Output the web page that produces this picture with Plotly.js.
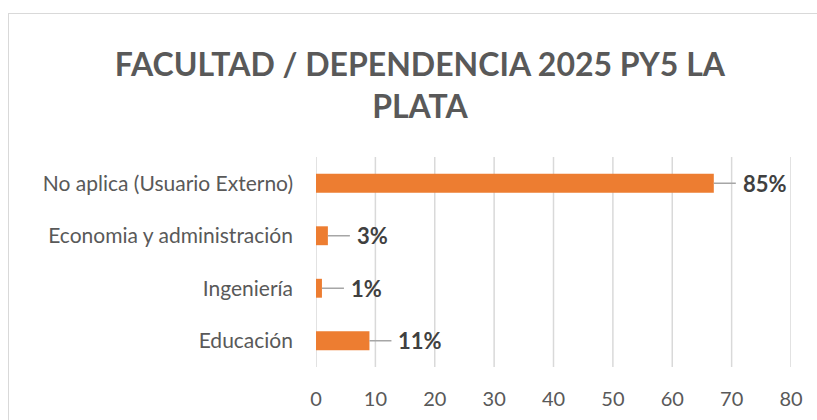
<!DOCTYPE html>
<html>
<head>
<meta charset="utf-8">
<script src="https://cdn.plot.ly/plotly-3.0.1.min.js"></script>
<style>
html,body{margin:0;padding:0;background:#fff;}
#wrap{position:relative;width:817px;height:420px;overflow:hidden;}
#chart{position:absolute;left:0;top:0;width:817px;height:420px;}
#box{position:absolute;left:8px;top:13px;width:830px;height:430px;border:1px solid #d9d9d9;box-sizing:border-box;pointer-events:none;}
</style>
</head>
<body>
<div id="wrap"><div id="chart"></div><div id="box"></div></div>
<script>
var categories = ['No aplica (Usuario Externo)', 'Economia y administración', 'Ingeniería', 'Educación'];
var counts = [67, 2, 1, 9];
var pctLabels = ['85%', '3%', '1%', '11%'];
var xTicks = [0, 10, 20, 30, 40, 50, 60, 70, 80];

var FONT = 'Lato, "Open Sans", sans-serif';

var trace = {
  type: 'bar',
  orientation: 'h',
  x: counts,
  y: categories,
  width: 0.36,
  marker: {color: '#ED7D31', line: {width: 0}},
  hoverinfo: 'none'
};
// same data on the label axis (invisible), so the axis carrying the tick labels is drawn
var labelTrace = {
  type: 'bar', orientation: 'h', x: counts, y: categories,
  xaxis: 'x2', yaxis: 'y', width: 0.36,
  marker: {color: 'rgba(0,0,0,0)'}, hoverinfo: 'none', showlegend: false
};

var annotations = categories.map(function(c, i){
  return {
    x: counts[i], y: c, xref: 'x', yref: 'y',
    text: '<b>' + pctLabels[i] + '</b>',
    showarrow: true, arrowhead: 0, arrowwidth: 1.5, arrowcolor: '#a6a6a6',
    ax: 22, ay: 0, xanchor: 'left', yanchor: 'middle',
    borderpad: 6,
    font: {family: FONT, size: 22, color: '#404040'}
  };
});

// vertical gridlines at the x tick values, spanning only the y-axis domain
var gridShapes = xTicks.map(function(v){
  return {
    type: 'line', layer: 'below',
    xref: 'x', x0: v, x1: v,
    yref: 'y domain', y0: 0, y1: 1,
    line: {color: '#d9d9d9', width: 1.5}
  };
});

var layout = {
  width: 817, height: 420,
  margin: {l: 316, r: 26, t: 157, b: 23},
  paper_bgcolor: 'rgba(0,0,0,0)',
  plot_bgcolor: 'rgba(0,0,0,0)',
  showlegend: false,
  barmode: 'overlay',
  title: {
    text: '<b>FACULTAD / DEPENDENCIA 2025 PY5 LA<br>PLATA</b>',
    x: 0.514, xref: 'container', xanchor: 'center',
    y: 0.818, yref: 'container', yanchor: 'top',
    font: {family: FONT, size: 32, color: '#595959'}
  },
  xaxis: {
    range: [0, 80], tickvals: xTicks,
    showgrid: false, zeroline: false, showline: false, ticks: '',
    showticklabels: false,
    fixedrange: true
  },
  xaxis2: {
    overlaying: 'x', anchor: 'free', position: 0.05, side: 'bottom',
    range: [0, 80], tickvals: xTicks, ticktext: xTicks.map(String),
    showgrid: false, zeroline: false, showline: false, ticks: '',
    tickfont: {family: FONT, size: 20, color: '#595959'},
    fixedrange: true
  },
  yaxis: {
    domain: [0.125, 1],
    autorange: 'reversed', type: 'category',
    showgrid: false, zeroline: false, showline: false,
    ticks: '', ticklabelstandoff: 22,
    tickfont: {family: FONT, size: 21, color: '#595959'},
    fixedrange: true
  },
  shapes: gridShapes,
  annotations: annotations
};

Plotly.newPlot('chart', [trace, labelTrace], layout, {displayModeBar: false, staticPlot: true});
</script>
</body>
</html>
